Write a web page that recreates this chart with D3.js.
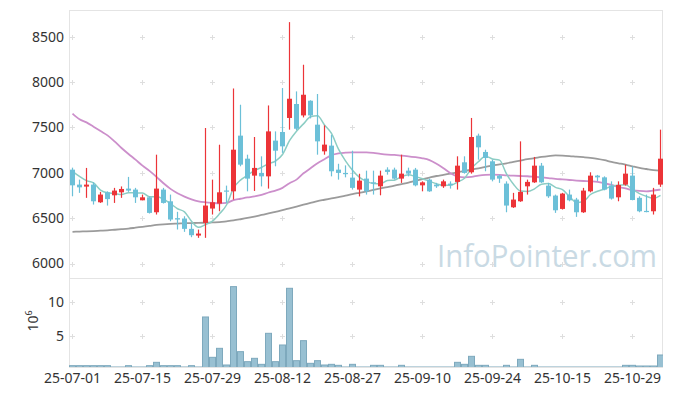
<!DOCTYPE html>
<html><head><meta charset="utf-8">
<script src="https://cdn.jsdelivr.net/npm/d3@7"></script>
<style>body{margin:0;background:#fff;} svg{display:block;font-family:"Noto Sans",sans-serif;}</style>
</head><body><svg id="chart" width="673" height="396"></svg>
<script>
const dates = ["25-07-01","25-07-02","25-07-03","25-07-04","25-07-07","25-07-08","25-07-09","25-07-10","25-07-11","25-07-14",
"25-07-15","25-07-16","25-07-17","25-07-18","25-07-21","25-07-22","25-07-23","25-07-24","25-07-25","25-07-28",
"25-07-29","25-07-30","25-07-31","25-08-01","25-08-04","25-08-05","25-08-06","25-08-07","25-08-08","25-08-11",
"25-08-12","25-08-13","25-08-14","25-08-18","25-08-19","25-08-20","25-08-21","25-08-22","25-08-25","25-08-26",
"25-08-27","25-08-28","25-08-29","25-09-01","25-09-02","25-09-03","25-09-04","25-09-05","25-09-08","25-09-09",
"25-09-10","25-09-11","25-09-12","25-09-15","25-09-16","25-09-17","25-09-18","25-09-19","25-09-22","25-09-23",
"25-09-24","25-09-25","25-09-26","25-09-29","25-09-30","25-10-01","25-10-02","25-10-10","25-10-13","25-10-14",
"25-10-15","25-10-16","25-10-17","25-10-20","25-10-21","25-10-22","25-10-23","25-10-24","25-10-27","25-10-28",
"25-10-29","25-10-30","25-10-31","25-11-03","25-11-04"];
const tickLabels = ["25-07-01","25-07-15","25-07-29","25-08-12","25-08-27","25-09-10","25-09-24","25-10-15","25-10-29"];
const openP = [7035,6870,6848,6870,6675,6785,6752,6785,6826,6815,
6697,6730,6565,6815,6686,6500,6496,6382,6308,6448,
6606,6661,6805,6796,7410,7156,6969,6999,6961,7355,
7450,7605,7759,7633,7795,7531,7237,7300,7035,6999,
6947,6815,6936,6895,6851,7035,7035,6936,7024,7035,
6862,6925,6870,6851,6881,6900,7116,7006,7410,7230,
7127,6969,6881,6620,6686,6851,6895,7079,6859,6749,
6602,6760,6705,6565,6796,6969,6950,6859,6730,6870,
6969,6724,6580,6576,6870];
const highP = [7057,6925,7054,6895,6790,6796,6834,6850,6955,6834,
6760,6741,7200,6834,6760,6570,6521,6440,6374,7494,
6925,7310,6859,7930,7751,7200,7395,7182,7743,7457,
7935,8662,7898,8192,7800,7869,7523,7420,7100,7082,
7244,6990,7024,7024,7024,7061,7057,7200,7057,7054,
6906,6936,6889,6925,6906,7182,7182,7605,7432,7255,
7145,6980,6906,6779,7347,6925,7175,7109,6889,6760,
6779,6815,6724,6834,7006,6977,6961,6906,6906,7090,
7070,6741,6760,6834,7476];
const lowP = [6741,6779,6724,6650,6668,6639,6668,6724,6790,6668,
6697,6551,6540,6661,6466,6375,6349,6290,6283,6283,
6540,6576,6668,6705,7072,6796,6800,6850,6826,7072,
7220,7476,7470,7611,7600,7200,7200,6961,6925,6950,
6815,6740,6760,6760,6752,6980,6925,6889,6961,6851,
6796,6790,6834,6834,6826,6815,6991,6991,7145,7017,
6906,6889,6565,6613,6680,6760,6889,6889,6724,6558,
6595,6686,6514,6558,6785,6910,6807,6705,6686,6859,
6697,6565,6565,6540,6845];
const closeP = [6862,6840,6870,6686,6760,6710,6804,6822,6804,6730,
6730,6558,6826,6668,6485,6485,6382,6312,6330,6639,
6675,6785,6795,7255,7090,6936,7054,6961,7457,7244,
7292,7817,7486,7861,7633,7347,7311,7017,6999,6985,
6834,6914,6796,6885,6969,7010,6936,6991,6991,6862,
6895,6796,6851,6906,6864,7079,6999,7395,7281,7164,
6925,6936,6639,6705,6790,6900,7079,6895,6741,6587,
6771,6697,6565,6804,6969,6950,6815,6716,6866,6991,
6700,6576,6569,6760,7156];
const volume = [0.5,0.5,0.5,0.5,0.5,0.5,0.3,0.3,0.5,0.3,
0.3,0.5,1.0,0.5,0.5,0.5,0.3,0.5,0.3,7.8,
1.75,3.1,0.6,12.35,2.6,1.1,1.6,0.7,5.35,1.1,
3.6,12.1,1.25,4.25,0.85,1.25,0.6,0.7,0.55,0.3,
0.7,0.3,0.3,0.55,0.55,0.3,0.3,0.55,0.3,0.3,
0.3,0.3,0.3,0.3,0.3,1.0,0.7,1.9,0.55,0.55,
0.3,0.3,0.55,0.3,1.45,0.3,0.55,0.3,0.3,0.3,
0.3,0.3,0.3,0.3,0.3,0.3,0.3,0.3,0.3,0.55,
0.55,0.45,0.45,0.45,2.1];
const ma5 = [7017,6961,6914,6889,6810,6780,6772,6762,6780,6778,
6778,6735,6735,6710,6660,6604,6569,6466,6399,6430,
6468,6548,6645,6830,6920,6972,7026,7059,7100,7130,
7202,7354,7459,7540,7618,7629,7528,7434,7261,7132,
7029,6950,6906,6883,6880,6915,6919,6958,6979,6958,
6935,6907,6879,6862,6862,6899,6940,7049,7124,7184,
7153,7140,6989,6874,6799,6794,6823,6874,6881,6840,
6815,6738,6672,6685,6761,6797,6821,6851,6863,6868,
6818,6770,6740,6719,6752];
const ma20 = [7652,7590,7556,7509,7461,7413,7347,7274,7208,7145,
7079,7021,6955,6885,6823,6775,6738,6708,6686,6675,
6668,6664,6668,6700,6714,6728,6740,6758,6783,6804,
6834,6885,6925,6995,7050,7105,7150,7195,7215,7222,
7226,7226,7226,7220,7208,7200,7197,7189,7182,7172,
7160,7140,7100,7050,6995,6960,6950,6955,6970,6978,
6980,6978,6972,6968,6965,6962,6956,6950,6942,6933,
6927,6921,6915,6910,6906,6900,6885,6866,6845,6828,
6810,6800,6796,6805,6815];
const ma60 = [6349,6352,6355,6358,6362,6366,6372,6378,6385,6395,
6405,6415,6425,6432,6437,6440,6443,6446,6448,6450,
6453,6456,6465,6475,6488,6502,6518,6535,6552,6570,
6588,6608,6628,6648,6668,6688,6703,6718,6733,6748,
6765,6780,6795,6812,6828,6843,6858,6875,6892,6912,
6930,6948,6965,6978,6992,7005,7020,7035,7050,7065,
7080,7092,7105,7120,7135,7150,7162,7175,7185,7192,
7190,7185,7178,7172,7165,7155,7140,7120,7105,7090,
7072,7055,7042,7030,7024];
const priceTicks = [6000,6500,7000,7500,8000,8500];
const volTicks = [5,10];

const svg = d3.select("#chart");
const L = 69, R = 663, T = 10, M = 278, B = 367;
const x = d3.scaleLinear().domain([0, dates.length - 1]).range([72, 660]);
const y = d3.scaleLinear().domain([6000, 8500]).range([263.5, 36.8]);
const yv = d3.scaleLinear().domain([0, 10]).range([369, 302.3]);
const tickIdx = tickLabels.map(t => dates.indexOf(t));

const defs = svg.append("defs");
defs.append("clipPath").attr("id","cm").append("rect").attr("x",L).attr("y",T).attr("width",R-L).attr("height",M-T);
defs.append("clipPath").attr("id","cv").append("rect").attr("x",L).attr("y",M).attr("width",R-L).attr("height",B-M);

// panel borders
svg.append("rect").attr("x",L+0.5).attr("y",T+0.5).attr("width",R-L-1).attr("height",M-T)
  .attr("fill","none").attr("stroke","#e4e4e4");
svg.append("rect").attr("x",L+0.5).attr("y",M+0.5).attr("width",R-L-1).attr("height",B-M)
  .attr("fill","none").attr("stroke","#e4e4e4");

// cross grid markers
const grid = svg.append("g").attr("stroke","#dedede").attr("stroke-width",1);
function cross(cx, cy){
  grid.append("line").attr("x1",cx-2.5).attr("x2",cx+2.5).attr("y1",cy).attr("y2",cy);
  grid.append("line").attr("x1",cx).attr("x2",cx).attr("y1",cy-2.5).attr("y2",cy+2.5);
}
tickIdx.forEach(i => {
  priceTicks.forEach(p => cross(Math.round(x(i))+0.5, Math.round(y(p))+0.5));
  volTicks.forEach(v => cross(Math.round(x(i))+0.5, Math.round(yv(v))+0.5));
});

// watermark
svg.append("text").attr("x",437).attr("y",267).attr("font-size",31)
  .attr("font-family","'Open Sans','Noto Sans',sans-serif")
  .attr("fill","#c9dae4").attr("textLength",220).attr("lengthAdjust","spacingAndGlyphs")
  .text("InfoPointer.com");

// volume bars
svg.append("g").attr("clip-path","url(#cv)").selectAll("rect").data(volume).join("rect")
  .attr("x",(d,i)=>x(i)-2.5).attr("width",6)
  .attr("y",d=>yv(d)).attr("height",d=>Math.max(0, yv(0)-yv(d)))
  .attr("fill","#98c0d2").attr("stroke","#7ea9bd").attr("stroke-width",1);

// moving averages
const lineGen = arr => d3.line().x((d,i)=>x(i)+0.5).y(d=>y(d)).curve(d3.curveMonotoneX)(arr);
const lg = svg.append("g").attr("clip-path","url(#cm)").attr("fill","none");
lg.append("path").attr("d",lineGen(ma60)).attr("stroke","#9b9b9b").attr("stroke-width",1.8);
lg.append("path").attr("d",lineGen(ma20)).attr("stroke","#cc8fcb").attr("stroke-width",1.8);

// candles
const up = i => closeP[i] >= openP[i];
const col = i => up(i) ? "#ec3438" : "#6cc0d8";
const cg = svg.append("g").attr("clip-path","url(#cm)");
const idx = d3.range(dates.length);
cg.selectAll("line.w").data(idx).join("line").attr("class","w")
  .attr("x1",i=>x(i)+0.5).attr("x2",i=>x(i)+0.5)
  .attr("y1",i=>y(highP[i])).attr("y2",i=>y(lowP[i]))
  .attr("stroke",col).attr("stroke-width",1.2);
cg.selectAll("rect.b").data(idx).join("rect").attr("class","b")
  .attr("x",i=>x(i)-2).attr("width",5)
  .attr("y",i=>y(Math.max(openP[i],closeP[i])))
  .attr("height",i=>Math.max(1.2, Math.abs(y(openP[i])-y(closeP[i]))))
  .attr("fill",col);

lg.append("path").attr("d",lineGen(ma5)).attr("stroke","#8ccdc4").attr("stroke-width",1.5);

// axes
const ay = svg.append("g").attr("transform",`translate(${L},0)`)
  .call(d3.axisLeft(y).tickValues(priceTicks).tickFormat(d3.format("d")).tickSize(0).tickPadding(5));
const av = svg.append("g").attr("transform",`translate(${L},0)`)
  .call(d3.axisLeft(yv).tickValues(volTicks).tickFormat(d3.format("d")).tickSize(0).tickPadding(5));
const ax = svg.append("g").attr("transform",`translate(0,${B})`)
  .call(d3.axisBottom(x).tickValues(tickIdx).tickFormat(i=>dates[i]).tickSize(0).tickPadding(6));
[ay,av,ax].forEach(g=>{
  g.select(".domain").remove();
  g.selectAll("text").attr("font-size",14).attr("fill","#333").attr("font-family","'Noto Sans',sans-serif");
});

// volume unit label
const ut = svg.append("text").attr("transform","translate(38,321) rotate(-90)")
  .attr("text-anchor","middle").attr("font-size",14).attr("fill","#333");
ut.append("tspan").text("10");
ut.append("tspan").attr("font-size",9).attr("dy",-6).text("6");
</script></body></html>
